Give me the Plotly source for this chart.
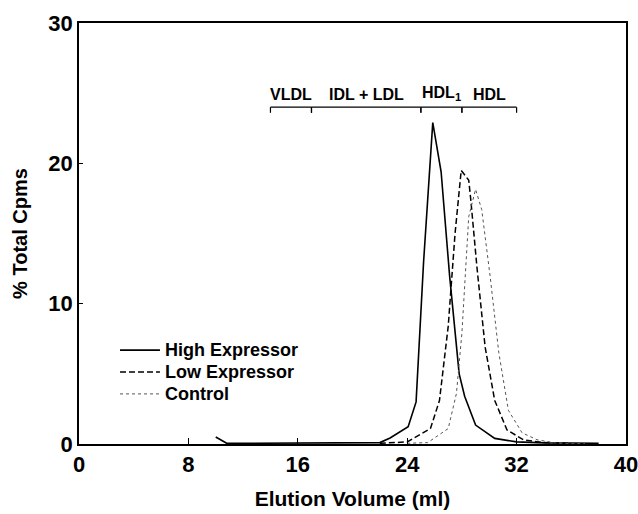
import plotly.graph_objects as go

# elution volume (ml) and % total cpms
high_x = [10.0, 10.8, 12, 14, 16, 18, 20, 22.0, 22.75, 24.07, 24.65, 25.2, 25.87, 26.48, 27.1, 27.8, 28.2, 29.0, 30.4, 32.0, 34.0, 36.0, 38.0]
high_y = [0.5, 0.05, 0.05, 0.05, 0.05, 0.05, 0.05, 0.1, 0.43, 1.23, 3.0, 13.0, 22.9, 19.4, 12.0, 5.0, 3.4, 1.35, 0.4, 0.15, 0.08, 0.05, 0.05]

low_x = [22.0, 24.0, 25.7, 26.36, 27.0, 27.5, 27.95, 28.5, 28.65, 29.1, 29.7, 30.4, 31.3, 32.5, 34.0, 36.0]
low_y = [0.05, 0.15, 1.1, 3.1, 8.4, 15.0, 19.5, 18.8, 17.4, 12.6, 6.9, 3.1, 1.0, 0.3, 0.1, 0.05]

ctrl_x = [24.0, 25.5, 27.0, 27.6, 28.0, 28.5, 29.0, 29.45, 30.07, 30.7, 31.4, 32.4, 33.5, 35.0, 37.0]
ctrl_y = [0.05, 0.1, 1.1, 3.6, 7.9, 16.2, 18.15, 16.7, 11.9, 6.5, 2.4, 0.8, 0.3, 0.05, 0.03]

series_names = ["High Expressor", "Low Expressor", "Control"]

# lipoprotein fraction ranges (ml)
frac_labels = ["VLDL", "IDL + LDL", "HDL<sub>1</sub>", "HDL"]
frac_start = [14, 17, 25, 28]
frac_end = [17, 25, 28, 32]
bracket_y = 24.0

font = "Liberation Sans, Arial, Helvetica, sans-serif"
styles = [dict(color="black", width=1.6),
          dict(color="black", width=1.5, dash="6px,3px"),
          dict(color="#555555", width=1, dash="dot")]

fig = go.Figure()
for xs, ys, name, st in zip([high_x, low_x, ctrl_x], [high_y, low_y, ctrl_y], series_names, styles):
    fig.add_trace(go.Scatter(x=xs, y=ys, mode="lines", name=name, line=st, showlegend=False))

# hand-drawn legend, rows tighter than plotly's own
leg_y = [0.223, 0.171, 0.119]
for name, st, ly in zip(series_names, styles, leg_y):
    fig.add_shape(type="line", xref="paper", yref="paper", x0=0.075, x1=0.148,
                  y0=ly, y1=ly, line=st)
    fig.add_annotation(xref="paper", yref="paper", x=0.153, y=ly, text=name,
                       showarrow=False, xanchor="left", yanchor="middle",
                       font=dict(family=font, size=18, color="black", weight="bold"))

for s, e, lab in zip(frac_start, frac_end, frac_labels):
    fig.add_shape(type="line", x0=s, x1=e, y0=bracket_y, y1=bracket_y,
                  line=dict(color="black", width=1.2))
    for xx in (s, e):
        fig.add_shape(type="line", x0=xx, x1=xx, y0=bracket_y, y1=bracket_y - 0.4,
                      line=dict(color="black", width=1.2))
    fig.add_annotation(x=(s + e) / 2, y=bracket_y, text=lab, showarrow=False,
                       yanchor="bottom", yshift=2,
                       font=dict(family=font, size=16, color="black", weight="bold"))

fig.update_layout(
    width=638, height=514,
    margin=dict(l=79, r=12, t=23, b=70),
    plot_bgcolor="white", paper_bgcolor="white",
    font=dict(family=font, color="black"),
)
fig.update_xaxes(range=[0, 40], tickvals=[0, 8, 16, 24, 32, 40], automargin=False,
                 ticklabeloverflow="allow",
                 showline=True, mirror=True, linecolor="black", linewidth=1.5,
                 ticks="inside", ticklen=6, tickcolor="black", showgrid=False, zeroline=False,
                 tickfont=dict(family=font, size=22, color="black", weight="bold"),
                 title=dict(text="Elution Volume (ml)",
                            font=dict(family=font, size=21, color="black", weight="bold")))
fig.update_yaxes(range=[0, 30], tickvals=[0, 10, 20, 30], automargin=False,
                 ticklabeloverflow="allow",
                 showline=True, mirror=True, linecolor="black", linewidth=1.5,
                 ticks="inside", ticklen=4, tickcolor="black", showgrid=False, zeroline=False,
                 tickfont=dict(family=font, size=22, color="black", weight="bold"),
                 title=dict(text="% Total Cpms",
                            font=dict(family=font, size=20, color="black", weight="bold")))

fig.write_html("out.html", config={"displayModeBar": False},
               post_script="document.body.style.margin='0';")
